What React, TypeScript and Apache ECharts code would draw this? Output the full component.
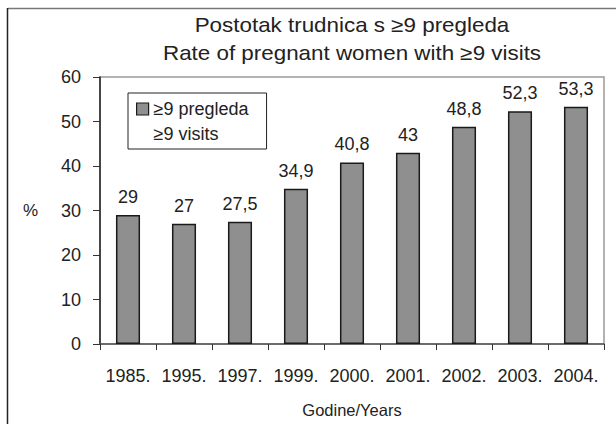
import React, { useEffect, useRef } from "react";
import * as echarts from "echarts";

const categories = ["1985.", "1995.", "1997.", "1999.", "2000.", "2001.", "2002.", "2003.", "2004."];
const values = [29, 27, 27.5, 34.9, 40.8, 43, 48.8, 52.3, 53.3];
const titleLines = ["Postotak trudnica s ≥9 pregleda", "Rate of pregnant women with ≥9 visits"];
const seriesName = "≥9 pregleda\n≥9 visits";
const yTicks = { min: 0, max: 60, interval: 10 };

const FONT = "'Liberation Sans', Arial, Helvetica, sans-serif";

export default function App() {
  const ref = useRef<HTMLDivElement>(null);
  useEffect(() => {
    if (!ref.current) return;
    const chart = echarts.init(ref.current, null, { renderer: "svg" });
    chart.setOption({
      animation: false,
      backgroundColor: "#ffffff",
      textStyle: { fontFamily: FONT },
      graphic: [
        { type: "line", shape: { x1: 8, y1: 8.5, x2: 616, y2: 8.5 }, style: { stroke: "#777", lineWidth: 1.5 } },
        { type: "line", shape: { x1: 7.5, y1: 8, x2: 7.5, y2: 424 }, style: { stroke: "#222", lineWidth: 1.5 } },
        {
          type: "text",
          x: 352,
          y: 25,
          scaleX: 1.12,
          style: { text: titleLines[0], fontSize: 20, fontFamily: FONT, fill: "#222", textAlign: "center", textVerticalAlign: "middle" },
        },
        {
          type: "text",
          x: 352,
          y: 53,
          scaleX: 1.12,
          style: { text: titleLines[1], fontSize: 20, fontFamily: FONT, fill: "#222", textAlign: "center", textVerticalAlign: "middle" },
        },
      ],
      legend: {
        show: true,
        data: [{ name: seriesName, icon: "path://M0,0H12V12H0ZM0,36H0.01V36Z" }],
        left: 128,
        top: 93,
        orient: "vertical",
        borderColor: "#222",
        borderWidth: 1,
        padding: [3, 18, 3, 8],
        itemWidth: 12,
        itemHeight: 36,
        itemGap: 4,
        backgroundColor: "#fff",
        itemStyle: { color: "#8f8f8f", borderColor: "#1a1a1a", borderWidth: 1.2 },
        textStyle: { fontSize: 18, fontFamily: FONT, color: "#222", lineHeight: 25 },
      },
      grid: {
        left: 100,
        right: 12,
        top: 77,
        bottom: 80,
        show: true,
        borderColor: "#999",
        borderWidth: 1.5,
        backgroundColor: "transparent",
      },
      xAxis: {
        type: "category",
        data: categories,
        name: "Godine/Years",
        nameLocation: "middle",
        nameGap: 57,
        nameTextStyle: { fontSize: 16.5, fontFamily: FONT, color: "#222" },
        axisLine: { show: true, lineStyle: { color: "#555", width: 1.5 } },
        axisTick: { show: true, alignWithLabel: false, interval: 0, length: 6, lineStyle: { color: "#333", width: 1 } },
        axisLabel: { interval: 0, margin: 23, fontSize: 18, fontFamily: FONT, color: "#222" },
        splitLine: { show: false },
      },
      yAxis: {
        type: "value",
        min: yTicks.min,
        max: yTicks.max,
        interval: yTicks.interval,
        name: "%",
        nameLocation: "middle",
        nameRotate: 0,
        nameGap: 62,
        nameTextStyle: { fontSize: 17, fontFamily: FONT, color: "#222" },
        axisLine: { show: true, lineStyle: { color: "#222", width: 1.5 } },
        axisTick: { show: true, inside: false, length: 7, lineStyle: { color: "#333", width: 1 } },
        axisLabel: { margin: 19, fontSize: 18, fontFamily: FONT, color: "#222" },
        splitLine: { show: false },
      },
      series: [
        {
          name: seriesName,
          type: "bar",
          data: values,
          barWidth: "43%",
          itemStyle: { color: "#8f8f8f", borderColor: "#1a1a1a", borderWidth: 1.5 },
          label: {
            show: true,
            position: "top",
            distance: 9,
            fontSize: 18,
            fontFamily: FONT,
            color: "#222",
            formatter: (p: any) => String(p.value).replace(".", ","),
          },
        },
      ],
    });
    return () => chart.dispose();
  }, []);
  return <div ref={ref} style={{ position: "absolute", left: 0, top: 0, width: 616, height: 424 }} />;
}
